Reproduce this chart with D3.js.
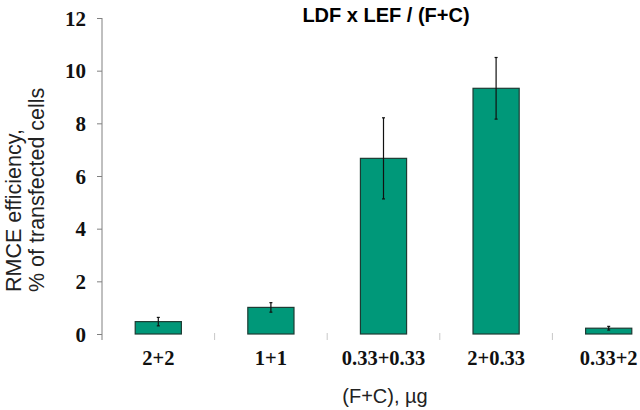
<!DOCTYPE html>
<html><head><meta charset="utf-8">
<script src="https://cdn.jsdelivr.net/npm/d3@7"></script>
<style>body{margin:0;background:#fff;}svg{display:block;}</style>
</head><body>
<svg id="chart" width="640" height="410"></svg>
<script>
const categories = ["2+2", "1+1", "0.33+0.33", "2+0.33", "0.33+2"];
const values = [0.47, 1.01, 6.67, 9.33, 0.22];
const errors = [0.16, 0.18, 1.54, 1.17, 0.07];
const yTicks = [0, 2, 4, 6, 8, 10, 12];
const title = "LDF x LEF / (F+C)";
const xTitle = "(F+C), µg";
const yTitle = ["RMCE efficiency,", "% of transfected cells"];

const svg = d3.select("#chart");
const x = d3.scaleBand().domain(categories).range([102, 665]).padding(0);
const y = d3.scaleLinear().domain([0, 12]).range([334, 18]);
const barW = x.bandwidth() * 0.41;

// y axis
const yAxis = svg.append("g").attr("transform", "translate(102,0)")
  .call(d3.axisLeft(y).tickValues(yTicks).tickSize(5).tickPadding(11).tickSizeOuter(0));
yAxis.select(".domain").remove();
svg.append("line").attr("x1", 102).attr("x2", 102).attr("y1", y(12)).attr("y2", 340)
  .attr("stroke", "#808080").attr("stroke-width", 1);
yAxis.selectAll(".tick line").attr("stroke", "#808080");
yAxis.selectAll(".tick text").attr("font-family", "Liberation Serif, Times New Roman, serif")
  .attr("font-weight", "bold").attr("font-size", 21).attr("fill", "#111").attr("dy", "0.34em");

// x axis (faint separators, no line)
const xAxis = svg.append("g").attr("transform", "translate(0,334)")
  .call(d3.axisBottom(x).tickSize(0));
xAxis.select(".domain").remove();
xAxis.selectAll(".tick text").attr("font-family", "Liberation Serif, Times New Roman, serif")
  .attr("font-weight", "bold").attr("font-size", 20.5).attr("fill", "#111")
  .attr("y", 31).attr("dy", 0);
svg.append("g").selectAll("line").data(categories.slice(1)).join("line")
  .attr("x1", d => x(d)).attr("x2", d => x(d)).attr("y1", 333).attr("y2", 340)
  .attr("stroke", "#c8c8c8").attr("stroke-width", 1);

// bars
svg.append("g").selectAll("rect").data(values).join("rect")
  .attr("x", (d, i) => x(categories[i]) + (x.bandwidth() - barW) / 2)
  .attr("y", d => y(d))
  .attr("width", barW)
  .attr("height", d => y(0) - y(d))
  .attr("fill", "#009879")
  .attr("stroke", "#1d3b33").attr("stroke-width", 1.2);

// error bars
const eg = svg.append("g");
values.forEach((v, i) => {
  const cx = x(categories[i]) + x.bandwidth() / 2;
  eg.append("line").attr("x1", cx).attr("x2", cx)
    .attr("y1", y(v + errors[i])).attr("y2", y(v - errors[i]))
    .attr("stroke", "#111").attr("stroke-width", 1.2);
  [v + errors[i], v - errors[i]].forEach(e => {
    eg.append("line").attr("x1", cx - 1.5).attr("x2", cx + 1.5)
      .attr("y1", y(e)).attr("y2", y(e)).attr("stroke", "#111").attr("stroke-width", 1.2);
  });
});

// title
svg.append("text").attr("x", 386).attr("y", 22).attr("text-anchor", "middle")
  .attr("font-family", "Liberation Sans, Arial, sans-serif").attr("font-weight", "bold")
  .attr("font-size", 20).attr("fill", "#000").text(title);

// x title
svg.append("text").attr("x", 385).attr("y", 403).attr("text-anchor", "middle")
  .attr("font-family", "Liberation Sans, Arial, sans-serif")
  .attr("font-size", 20).attr("fill", "#222").text(xTitle);

// y title
const yt = svg.append("text").attr("transform", "translate(0,292) rotate(-90)")
  .attr("text-anchor", "start")
  .attr("font-family", "Liberation Sans, Arial, sans-serif")
  .attr("font-size", 21.5).attr("fill", "#222");
yt.append("tspan").attr("x", 0).attr("y", 21).text(yTitle[0]);
yt.append("tspan").attr("x", 0).attr("y", 44).text(yTitle[1]);
</script>
</body></html>
